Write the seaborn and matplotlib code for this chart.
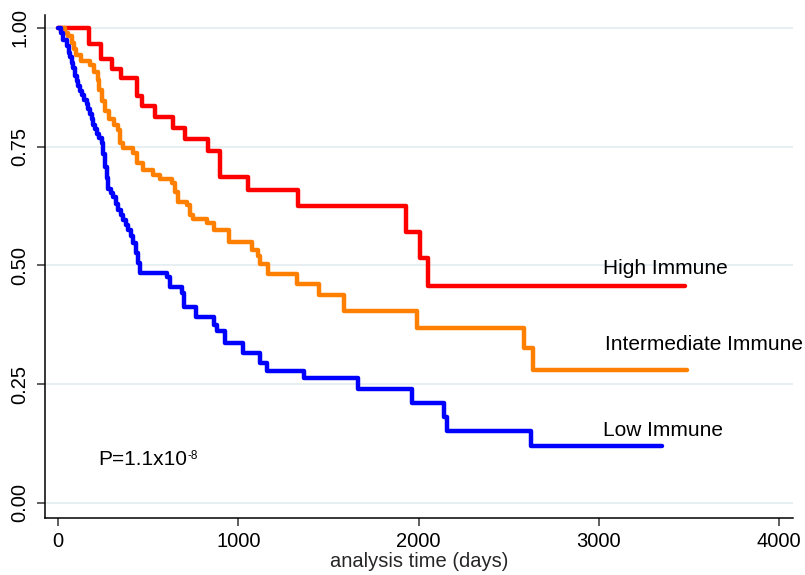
import matplotlib
matplotlib.use("Agg")
import matplotlib.pyplot as plt
import seaborn as sns
import pandas as pd

# ---- data ----
groups = ["High Immune", "Intermediate Immune", "Low Immune"]

high_t = [0, 170, 241, 298, 347, 436, 464, 538, 640, 704, 834, 896, 1055, 1330, 1928, 2008, 2054, 3478]
high_s = [1.0, 0.966, 0.934, 0.914, 0.894, 0.857, 0.835, 0.812, 0.789, 0.766, 0.740, 0.687, 0.659, 0.626, 0.571, 0.515, 0.457, 0.457]

inter_t = [0, 40, 57, 76, 90, 100, 125, 177, 200, 222, 230, 245, 262, 285, 310, 335, 344, 362, 418, 436,
           473, 529, 566, 630, 649, 667, 714, 732, 750, 825, 866, 950, 1074, 1111, 1120, 1166, 1325, 1449,
           1586, 1991, 2586, 2636, 3487]
inter_s = [1.0, 0.99, 0.982, 0.968, 0.955, 0.942, 0.931, 0.921, 0.908, 0.891, 0.869, 0.845, 0.826, 0.808,
           0.795, 0.784, 0.758, 0.747, 0.736, 0.715, 0.701, 0.691, 0.681, 0.673, 0.655, 0.634, 0.628, 0.606,
           0.598, 0.589, 0.575, 0.550, 0.533, 0.519, 0.502, 0.482, 0.460, 0.438, 0.405, 0.369, 0.327, 0.280,
           0.280]

low_t = [0, 15, 30, 48, 60, 67, 78, 85, 94, 105, 113, 122, 131, 145, 159, 168, 177, 187, 196, 205, 214, 228,
         242, 250, 261, 270, 279, 293, 307, 321, 335, 348, 362, 376, 390, 404, 418, 432, 446, 455, 603, 621,
         686, 700, 765, 867, 880, 926, 1028, 1120, 1157, 1364, 1666, 1965, 2139, 2157, 2623, 3348]
low_s = [1.0, 0.99, 0.975, 0.961, 0.948, 0.938, 0.925, 0.916, 0.898, 0.888, 0.878, 0.868, 0.858, 0.849,
         0.840, 0.830, 0.819, 0.808, 0.796, 0.787, 0.777, 0.768, 0.757, 0.735, 0.708, 0.685, 0.660, 0.652,
         0.644, 0.630, 0.617, 0.606, 0.596, 0.586, 0.575, 0.561, 0.547, 0.527, 0.505, 0.484, 0.476, 0.455,
         0.441, 0.413, 0.392, 0.375, 0.361, 0.336, 0.315, 0.294, 0.277, 0.263, 0.240, 0.211, 0.180, 0.152,
         0.120, 0.120]

x_ticks = [0, 1000, 2000, 3000, 4000]
y_ticks = [0.0, 0.25, 0.5, 0.75, 1.0]
y_tick_labels = ["0.00", "0.25", "0.50", "0.75", "1.00"]
p_text = "P=1.1x10"
p_sup = "-8"

label_pos = {"High Immune": (3023, 0.482),
             "Intermediate Immune": (3035, 0.322),
             "Low Immune": (3023, 0.141)}

# ---- build table ----
df = pd.concat([
    pd.DataFrame({"time": high_t, "surv": high_s, "group": groups[0]}),
    pd.DataFrame({"time": inter_t, "surv": inter_s, "group": groups[1]}),
    pd.DataFrame({"time": low_t, "surv": low_s, "group": groups[2]}),
], ignore_index=True)

sns.set_style("white")
plt.rcParams["font.family"] = ["Liberation Sans", "DejaVu Sans"]

fig = plt.figure(figsize=(8.05, 5.75), dpi=100)
ax = fig.add_axes([45 / 805, 1 - 518 / 575, (793 - 45) / 805, (518 - 15) / 575])

for y in y_ticks:
    ax.axhline(y, color="#e6eef1", lw=1.3, zorder=0)

palette = {"High Immune": "#ff0000", "Intermediate Immune": "#ff8000", "Low Immune": "#0000ff"}
sns.lineplot(data=df, x="time", y="surv", hue="group", hue_order=groups, palette=palette,
             estimator=None, drawstyle="steps-post", lw=3.2, legend=False, ax=ax,
             solid_joinstyle="round", solid_capstyle="round")

ax.set_xlim(-72, 4077)
ax.set_ylim(-0.0316, 1.027)
ax.set_xticks(x_ticks)
ax.set_xticklabels([str(v) for v in x_ticks])
ax.set_yticks(y_ticks)
ax.set_yticklabels(y_tick_labels, rotation=90, va="center")
ax.tick_params(axis="both", which="major", bottom=True, left=True, direction="out",
               length=6, width=1.1, color="#333333", labelsize=14.5, labelcolor="black")
ax.tick_params(axis="x", pad=4)
ax.tick_params(axis="y", pad=5)
ax.set_xlabel("analysis time (days)", fontsize=14.5, labelpad=1)
ax.set_ylabel("")

for side in ["top", "right"]:
    ax.spines[side].set_visible(False)
for side in ["left", "bottom"]:
    ax.spines[side].set_color("black")
    ax.spines[side].set_linewidth(1.1)

for g in groups:
    x, y = label_pos[g]
    ax.text(x, y, g, fontsize=15, ha="left", va="baseline", color="black")

pt = ax.text(224, 0.080, p_text, fontsize=15, ha="left", va="baseline", color="black")
ax.annotate(p_sup, xy=(1.0, 0.98), xycoords=pt, ha="left", va="top", fontsize=8.5, color="black")

fig.savefig("out.png", dpi=100)
